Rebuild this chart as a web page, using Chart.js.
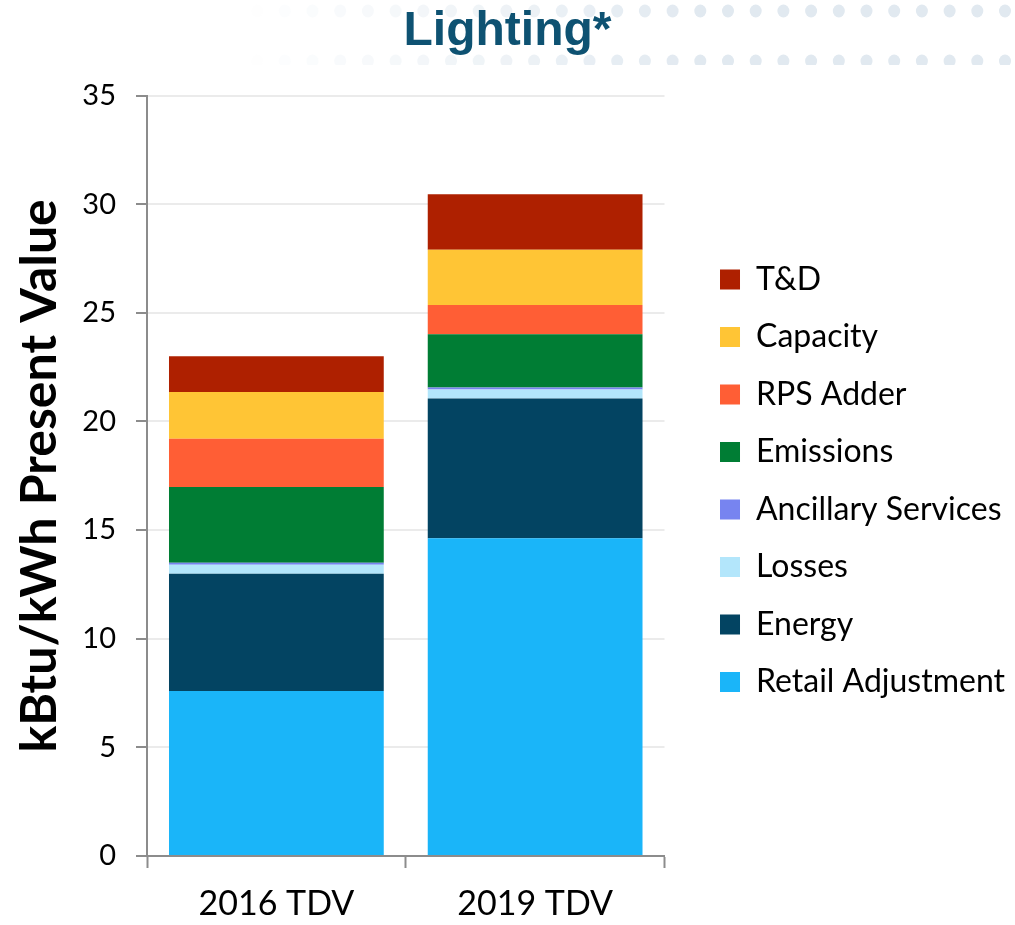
<!DOCTYPE html>
<html>
<head>
<meta charset="utf-8">
<script src="https://cdn.jsdelivr.net/npm/chart.js@4.4.0/dist/chart.umd.min.js"></script>
<style>
  html, body { margin: 0; padding: 0; background: #fff; }
  #wrap { width: 1015px; height: 925px; }
</style>
</head>
<body>
<div id="wrap"><canvas id="tdvChart" width="1015" height="925"></canvas></div>
<script>
// values, bottom of the stack first
const categories = ['2016 TDV', '2019 TDV'];
const retailAdjustment = [7.59, 14.63];
const energy = [5.40, 6.43];
const losses = [0.42, 0.41];
const ancillaryServices = [0.09, 0.10];
const emissions = [3.48, 2.45];
const rpsAdder = [2.23, 1.34];
const capacity = [2.15, 2.55];
const tAndD = [1.64, 2.55];
const yTicks = [0, 5, 10, 15, 20, 25, 30, 35];

const axisGrey = '#8c8c8c';
const labelFont = 'Lato';

// faint dotted band behind the title
const dotBand = {
  id: 'dotBand',
  beforeDraw(chart) {
    const ctx = chart.ctx;
    ctx.save();
    ctx.beginPath();
    ctx.rect(0, 0, chart.width, 65);
    ctx.clip();
    for (let x = 1005; x > 230; x -= 27.7) {
      const a = Math.max(0, Math.min(1, (x - 240) / 460));
      ctx.fillStyle = 'rgba(225,233,240,' + a + ')';
      [11, 61].forEach(y => {
        ctx.beginPath();
        ctx.ellipse(x, y, 6, 6.5, 0, 0, Math.PI * 2);
        ctx.fill();
      });
    }
    ctx.restore();
  }
};

const ctx = document.getElementById('tdvChart').getContext('2d');
new Chart(ctx, {
  type: 'bar',
  data: {
    labels: categories,
    datasets: [
      { label: 'Retail Adjustment', data: retailAdjustment, backgroundColor: '#1ab5f9' },
      { label: 'Energy', data: energy, backgroundColor: '#034462' },
      { label: 'Losses', data: losses, backgroundColor: '#b3e6fb' },
      { label: 'Ancillary Services', data: ancillaryServices, backgroundColor: '#7784f0' },
      { label: 'Emissions', data: emissions, backgroundColor: '#007d34' },
      { label: 'RPS Adder', data: rpsAdder, backgroundColor: '#ff5e35' },
      { label: 'Capacity', data: capacity, backgroundColor: '#ffc535' },
      { label: 'T&D', data: tAndD, backgroundColor: '#ae2000' }
    ]
  },
  options: {
    responsive: false,
    devicePixelRatio: 1,
    animation: false,
    datasets: {
      bar: { categoryPercentage: 1, barPercentage: 0.83, borderWidth: 0 }
    },
    layout: { padding: 0 },
    plugins: {
      title: {
        display: true,
        text: 'Lighting*',
        color: '#0e5272',
        font: { family: 'Liberation Sans', size: 48, weight: 'bold' },
        padding: { top: 3, bottom: 35 }
      },
      legend: {
        position: 'right',
        fullSize: false,
        reverse: true,
        maxWidth: 400,
        // empty title only nudges the items down a little
        title: { display: true, text: '', font: { size: 1 }, padding: 4.4 },
        labels: {
          boxWidth: 20,
          boxHeight: 20,
          padding: 25.5,
          color: '#000',
          font: { family: labelFont, size: 32 }
        }
      },
      tooltip: { enabled: false }
    },
    scales: {
      x: {
        stacked: true,
        afterFit: scale => { scale.height = 69; },
        grid: { drawOnChartArea: false, offset: true, tickLength: 12, tickColor: axisGrey, tickWidth: 2 },
        border: { color: axisGrey, width: 2 },
        ticks: { color: '#000', padding: 16, font: { family: labelFont, size: 34 } }
      },
      y: {
        stacked: true,
        min: 0,
        max: 35,
        afterBuildTicks: scale => { scale.ticks = yTicks.map(v => ({ value: v })); },
        afterFit: scale => { scale.width = 147; },
        grid: { color: '#ebebeb', lineWidth: 2, tickLength: 11, tickColor: axisGrey, tickWidth: 2 },
        border: { color: axisGrey, width: 2 },
        ticks: { color: '#000', padding: 20, font: { family: labelFont, size: 29 } },
        title: {
          display: true,
          text: 'kBtu/kWh Present Value',
          color: '#000',
          font: { family: labelFont, size: 50, weight: 'bold' },
          padding: { top: 10, bottom: 13 }
        }
      },
      spacer: {
        position: 'right',
        display: true,
        grid: { display: false, drawTicks: false },
        border: { display: false },
        ticks: { display: false },
        afterFit: scale => { scale.width = 30; }
      }
    }
  },
  plugins: [dotBand]
});
</script>
</body>
</html>
